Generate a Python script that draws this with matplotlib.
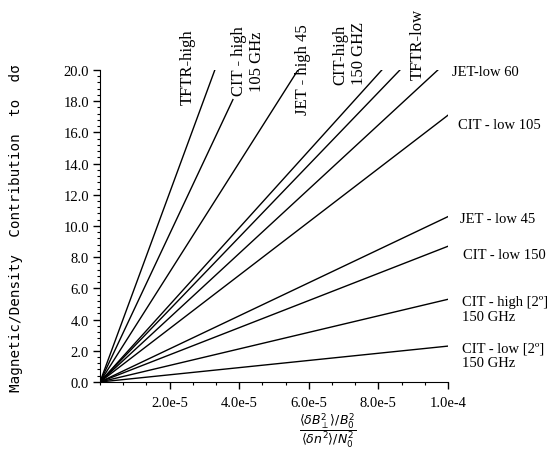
import matplotlib
matplotlib.use("Agg")
import matplotlib.pyplot as plt
from matplotlib.ticker import MultipleLocator, FixedLocator, FixedFormatter

plt.rcParams['font.family'] = ['Liberation Serif', 'DejaVu Serif']
plt.rcParams['mathtext.fontset'] = 'dejavusans'

# each line runs from the origin to (x_end, y_end)
line_names = ['TFTR-high', 'CIT-high 105', 'JET-high 45', 'CIT-high 150', 'TFTR-low',
              'JET-low 60', 'CIT-low 105', 'JET-low 45', 'CIT-low 150',
              'CIT-high 2nd 150', 'CIT-low 2nd 150']
x_end = [3.30e-5, 3.82e-5, 5.69e-5, 8.10e-5, 8.62e-5, 9.71e-5,
         1.0e-4, 1.0e-4, 1.0e-4, 1.0e-4, 1.0e-4]
y_end = [20.0, 18.1, 20.0, 20.0, 20.0, 20.0, 17.1, 10.6, 8.7, 5.3, 2.3]

x_ticks = [2e-5, 4e-5, 6e-5, 8e-5, 1e-4]
x_ticklabels = ['2.0e-5', '4.0e-5', '6.0e-5', '8.0e-5', '1.0e-4']
y_ticks = [0, 2, 4, 6, 8, 10, 12, 14, 16, 18, 20]
y_ticklabels = ['%.1f' % v for v in y_ticks]

# (text, x, y, rotation, ha, va, multialignment)
labels = [
    ('TFTR-high', 2.53e-5, 17.8, 90, 'center', 'bottom', 'left'),
    ('CIT - high\n105 GHz', 4.25e-5, 20.6, 90, 'center', 'center', 'center'),
    ('JET - high 45', 5.83e-5, 17.2, 90, 'center', 'bottom', 'left'),
    ('CIT-high\n150 GHZ', 7.18e-5, 19.1, 90, 'center', 'bottom', 'left'),
    ('TFTR-low', 9.14e-5, 19.4, 90, 'center', 'bottom', 'left'),
    ('JET-low 60', 1.011e-4, 19.9, 0, 'left', 'center', 'left'),
    ('CIT - low 105', 1.029e-4, 16.5, 0, 'left', 'center', 'left'),
    ('JET - low 45', 1.034e-4, 10.5, 0, 'left', 'center', 'left'),
    ('CIT - low 150', 1.043e-4, 8.2, 0, 'left', 'center', 'left'),
    ('CIT - high [2º]\n150 GHz', 1.04e-4, 4.7, 0, 'left', 'center', 'left'),
    ('CIT - low [2º]\n150 GHz', 1.04e-4, 1.7, 0, 'left', 'center', 'left'),
]

fig = plt.figure(figsize=(5.53, 4.52), dpi=100)
ax = fig.add_axes([0.1808, 0.1527, 0.6293, 0.6903])

for name, xe, ye in zip(line_names, x_end, y_end):
    ax.plot([0, xe], [0, ye], color='black', linewidth=1.0, label=name)

for txt, lx, ly, rot, ha, va, ma in labels:
    ax.text(lx, ly, txt, rotation=rot, ha=ha, va=va, multialignment=ma,
            fontsize=12 if rot else 10.5, clip_on=False)

ax.set_xlim(0, 1e-4)
ax.set_ylim(0, 20)
ax.spines['top'].set_visible(False)
ax.spines['right'].set_visible(False)

ax.xaxis.set_major_locator(FixedLocator(x_ticks))
ax.xaxis.set_major_formatter(FixedFormatter(x_ticklabels))
ax.xaxis.set_minor_locator(MultipleLocator(2e-5 / 3))
ax.yaxis.set_major_locator(FixedLocator(y_ticks))
ax.yaxis.set_major_formatter(FixedFormatter(y_ticklabels))
ax.yaxis.set_minor_locator(MultipleLocator(0.4))
ax.tick_params(which='major', direction='out', length=5, width=1, labelsize=10.5)
ax.tick_params(which='minor', direction='out', length=2.5, width=0.8)
ax.tick_params(axis='x', which='major', pad=5)
ax.tick_params(axis='y', which='major', pad=3)

ax.text(-0.24, 0.495, 'Magnetic/Density  Contribution  to  dσ', transform=ax.transAxes,
        rotation=90, ha='center', va='center', fontsize=10.3, family='DejaVu Sans Mono')
ax.text(0.655, -0.153,
        r'$\dfrac{\langle\delta B_{\perp}^{2}\rangle/B_{0}^{2}}{\langle\delta n^{2}\rangle/N_{0}^{2}}$',
        transform=ax.transAxes, ha='center', va='center', fontsize=9)

plt.savefig('out.png', dpi=100)
